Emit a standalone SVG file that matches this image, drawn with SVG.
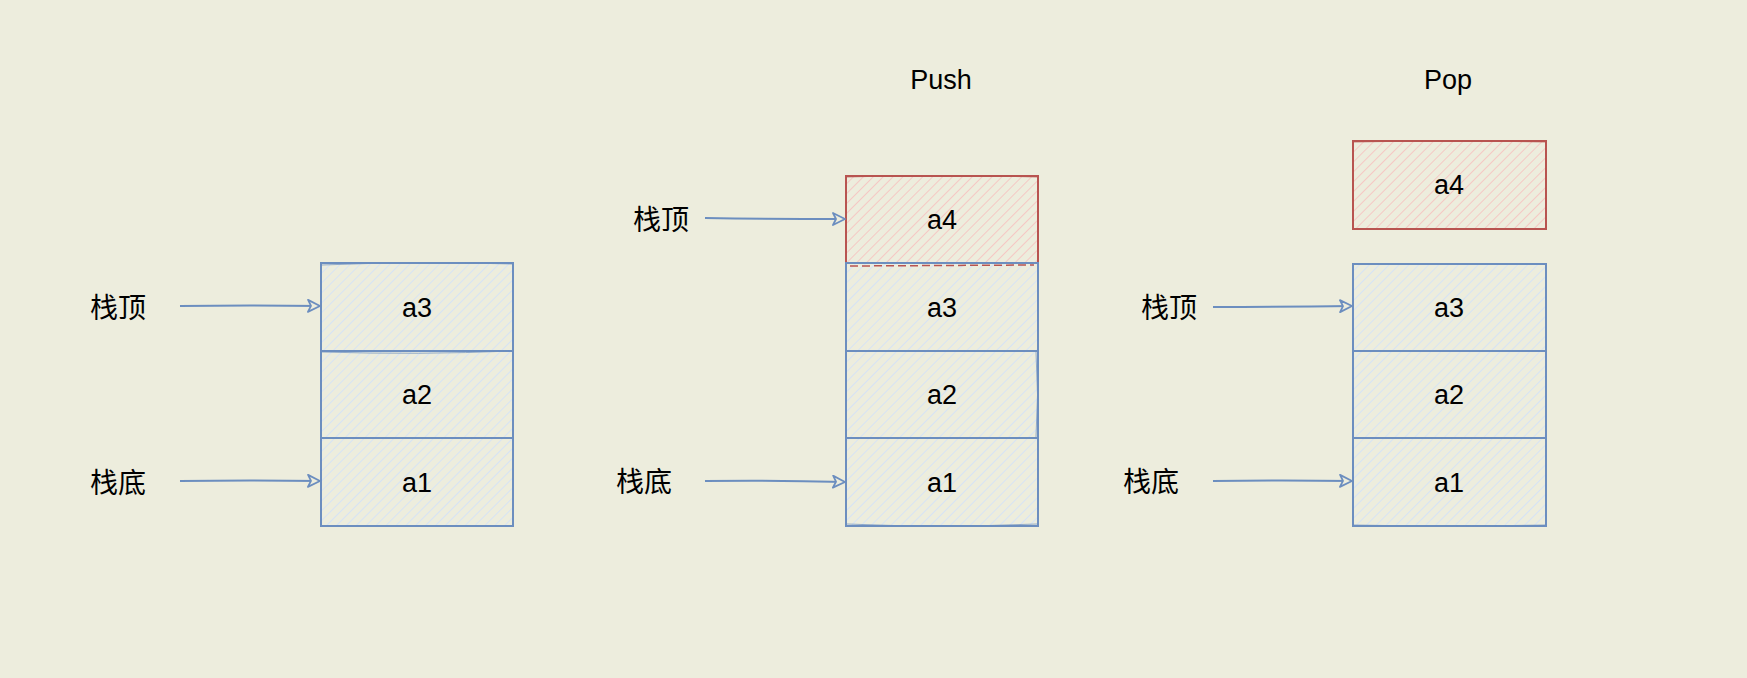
<svg xmlns="http://www.w3.org/2000/svg" width="1747" height="678" viewBox="0 0 1747 678">
<defs>
<style>
.bg{fill:#EDEDDD}
.cellB{fill:url(#hatchB);stroke:#6C8EBF;stroke-width:2}
.cellR{fill:url(#hatchR);stroke:#B85450;stroke-width:2}
.sk{fill:none;stroke-width:1;opacity:0.7}
.t{font-family:"Liberation Sans",Arial,sans-serif;font-size:27px;fill:#000;text-anchor:middle}
.cn{font-family:"Liberation Sans","Noto Sans CJK SC",sans-serif;font-size:28px;fill:#000}
.conn{fill:none;stroke:#6C8EBF;stroke-width:2;marker-end:url(#arr)}
</style>
<pattern id="hatchB" width="7" height="7" patternUnits="userSpaceOnUse" patternTransform="rotate(45)">
<rect width="7" height="7" fill="#EDEDDD"/>
<line x1="0" y1="0" x2="0" y2="7" stroke="#D6E3F5" stroke-width="2"/>
</pattern>
<pattern id="hatchR" width="7" height="7" patternUnits="userSpaceOnUse" patternTransform="rotate(45)">
<rect width="7" height="7" fill="#EDEDDD"/>
<line x1="0" y1="0" x2="0" y2="7" stroke="#F5C8C4" stroke-width="2"/>
</pattern>
<marker id="arr" viewBox="0 0 14 14" refX="13" refY="7" markerWidth="14" markerHeight="14" markerUnits="userSpaceOnUse" orient="auto">
<path d="M1,1 L13,7 L1,13 L4,7 Z" fill="#EDEDDD" stroke="#6C8EBF" stroke-width="1.8" stroke-linejoin="round"/>
</marker>
</defs>
<rect class="bg" width="1747" height="678"/>

<g id="title-push"><text class="t" x="941" y="89">Push</text></g>
<g id="title-pop"><text class="t" x="1448" y="89">Pop</text></g>

<!-- Stack 1 -->
<g id="s1-a3"><rect class="cellB" x="321" y="263" width="192" height="88"/><path class="sk" stroke="#6C8EBF" d="M322,265 Q420,261 512,264"/><text class="t" x="417" y="316.5">a3</text></g>
<g id="s1-a2"><rect class="cellB" x="321" y="351" width="192" height="87"/><path class="sk" stroke="#6C8EBF" d="M322,352 Q420,355 512,351"/><text class="t" x="417" y="404">a2</text></g>
<g id="s1-a1"><rect class="cellB" x="321" y="438" width="192" height="88"/><text class="t" x="417" y="491.5">a1</text></g>
<g id="s1-top"><text class="cn" x="90" y="318">栈顶</text></g>
<g id="s1-bottom"><text class="cn" x="90" y="493">栈底</text></g>

<!-- Stack 2 -->
<g id="s2-a4"><rect class="cellR" x="846" y="176" width="192" height="87"/><path class="sk" stroke="#B85450" d="M847,177 Q940,174 1037,177"/><text class="t" x="942" y="229">a4</text></g>
<g id="s2-a3"><rect class="cellB" x="846" y="263" width="192" height="88"/><path d="M850,266 L1034,265" stroke="#B85450" stroke-width="1.5" stroke-dasharray="8,4" fill="none"/><text class="t" x="942" y="316.5">a3</text></g>
<g id="s2-a2"><rect class="cellB" x="846" y="351" width="192" height="87"/><path class="sk" stroke="#6C8EBF" d="M1036,352 Q1039,395 1036,437"/><text class="t" x="942" y="404">a2</text></g>
<g id="s2-a1"><rect class="cellB" x="846" y="438" width="192" height="88"/><path class="sk" stroke="#6C8EBF" d="M847,524 Q940,528 1037,524"/><text class="t" x="942" y="491.5">a1</text></g>
<g id="s2-top"><text class="cn" x="633" y="230">栈顶</text></g>
<g id="s2-bottom"><text class="cn" x="616" y="492">栈底</text></g>

<!-- Stack 3 -->
<g id="s3-a4"><rect class="cellR" x="1353" y="141" width="193" height="88"/><path class="sk" stroke="#B85450" d="M1354,142 Q1450,139 1545,142"/><text class="t" x="1449" y="194">a4</text></g>
<g id="s3-a3"><rect class="cellB" x="1353" y="264" width="193" height="87"/><text class="t" x="1449" y="317">a3</text></g>
<g id="s3-a2"><rect class="cellB" x="1353" y="351" width="193" height="87"/><text class="t" x="1449" y="404">a2</text></g>
<g id="s3-a1"><rect class="cellB" x="1353" y="438" width="193" height="88"/><path class="sk" stroke="#6C8EBF" d="M1354,525 Q1450,528 1545,525"/><text class="t" x="1449" y="491.5">a1</text></g>
<g id="s3-top"><text class="cn" x="1141" y="318">栈顶</text></g>
<g id="s3-bottom"><text class="cn" x="1123" y="492">栈底</text></g>

<g id="connectors">
<path class="conn" d="M180,306 Q250,305 320,306"/>
<path class="conn" d="M180,481 Q250,480 320,481"/>
<path class="conn" d="M705,218 Q775,219 845,219"/>
<path class="conn" d="M705,481 Q775,480 845,482"/>
<path class="conn" d="M1213,307 Q1283,307 1352,306"/>
<path class="conn" d="M1213,481 Q1283,480 1352,481"/>
</g>
</svg>
